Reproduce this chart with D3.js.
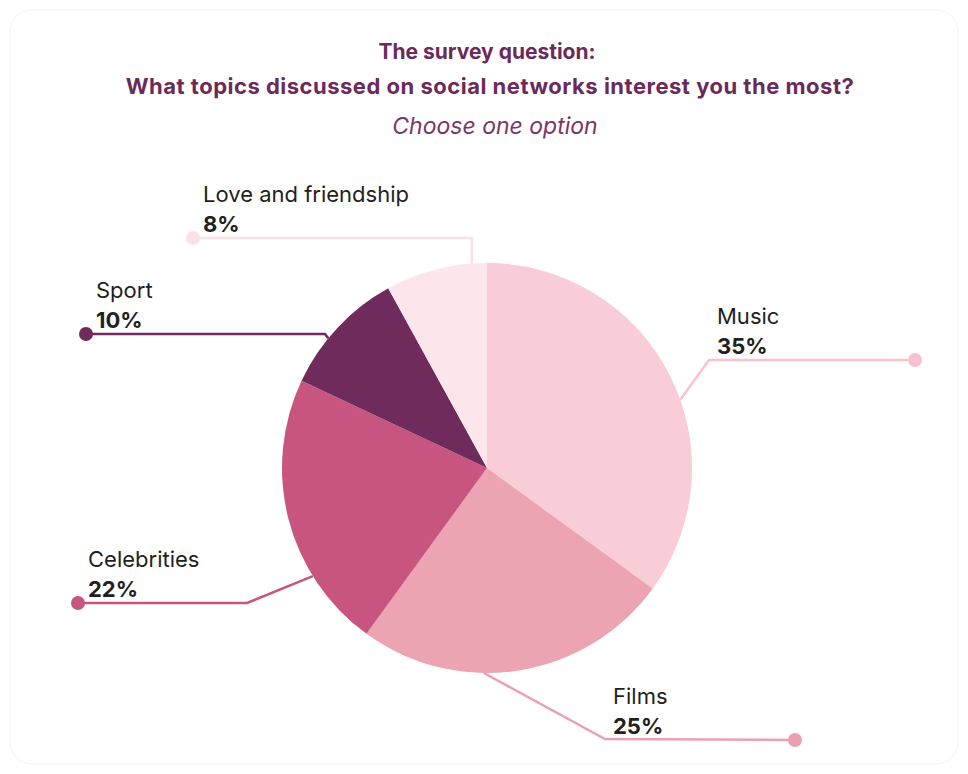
<!doctype html>
<html lang='en'>
<head>
<meta charset='UTF-8'>
<title>Survey pie</title>
<style>
  body { margin: 0; background: #fff; }
  svg { display: block; font-family: Inter, 'Noto Sans', sans-serif; }
</style>
</head>
<body>
<script src='https://d3js.org/d3.v7.min.js'></script>
<script>
  const categories = ['Music', 'Films', 'Celebrities', 'Sport', 'Love and friendship']
  const values = [35, 25, 22, 10, 8]
  const colors = ['#f9cdd7', '#eca4b3', '#c8557f', '#6f2b5b', '#fde6eb']
  const lineColors = ['#f6c3cf', '#eaa0b0', '#c8557f', '#6f2b5b', '#fbe0e6']

  // where each leader leaves the slice (fraction along the arc), elbow, and end dot
  const leaderAt = [0.56, 0.61, 0.28, 0.39, 0.85]
  const elbows = [[709, 360], [605, 739], [247, 603], [325, 334], [472, 238]]
  const dots = [[915, 360], [795, 740], [78, 603], [86, 334], [193, 238]]

  const w = 968
  const h = 774
  const cx = 487
  const cy = 468
  const r = 205

  const svg = d3.select('body').append('svg')
    .attr('width', w)
    .attr('height', h)

  svg.append('rect')
    .attr('x', 10).attr('y', 10)
    .attr('width', w - 20).attr('height', h - 20)
    .attr('rx', 22)
    .attr('fill', 'none')
    .attr('stroke', '#f3f3f3')

  /******** title ********/
  const title = svg.append('g').attr('text-anchor', 'middle').attr('fill', '#6b2a5a')
  title.append('text').attr('x', 487).attr('y', 59)
    .attr('font-size', 21).attr('font-weight', 700).text('The survey question:')
  title.append('text').attr('x', 490).attr('y', 94)
    .attr('font-size', 22).attr('font-weight', 700).attr('letter-spacing', 0.5)
    .text('What topics discussed on social networks interest you the most?')
  title.append('text').attr('x', 495).attr('y', 134)
    .attr('font-size', 23).attr('font-style', 'italic').attr('fill', '#7b3568')
    .text('Choose one option')

  /******** pie ********/
  const pie = d3.pie().sort(null).value(d => d)
  const arcs = pie(values)
  const arc = d3.arc().innerRadius(0).outerRadius(r)

  const g = svg.append('g').attr('transform', `translate(${cx},${cy})`)
  g.selectAll('path')
    .data(arcs)
    .enter()
    .append('path')
    .attr('d', arc)
    .attr('fill', (d, i) => colors[i])

  /******** leaders + labels ********/
  const edgePoint = (d, i) => {
    const a = d.startAngle + (d.endAngle - d.startAngle) * leaderAt[i]
    return [cx + r * Math.sin(a), cy - r * Math.cos(a)]
  }

  const leaders = svg.append('g')
  arcs.forEach((d, i) => {
    const p0 = edgePoint(d, i)
    const pts = [p0, elbows[i], dots[i]]
    leaders.append('path')
      .attr('d', d3.line()(pts))
      .attr('fill', 'none')
      .attr('stroke', lineColors[i])
      .attr('stroke-width', 2.5)
    leaders.append('circle')
      .attr('cx', dots[i][0]).attr('cy', dots[i][1])
      .attr('r', 7)
      .attr('fill', lineColors[i])

    // right-side labels sit after the elbow, left-side labels after the dot
    const right = dots[i][0] > cx
    const lx = right ? elbows[i][0] + 8 : dots[i][0] + 10
    const lab = svg.append('g').attr('fill', '#231f20').attr('font-size', 22)
    lab.append('text').attr('x', lx).attr('y', dots[i][1] - 36)
      .text(categories[i])
    lab.append('text').attr('x', lx).attr('y', dots[i][1] - 6)
      .attr('font-weight', 700)
      .text(values[i] + '%')
  })
</script>
</body>
</html>
